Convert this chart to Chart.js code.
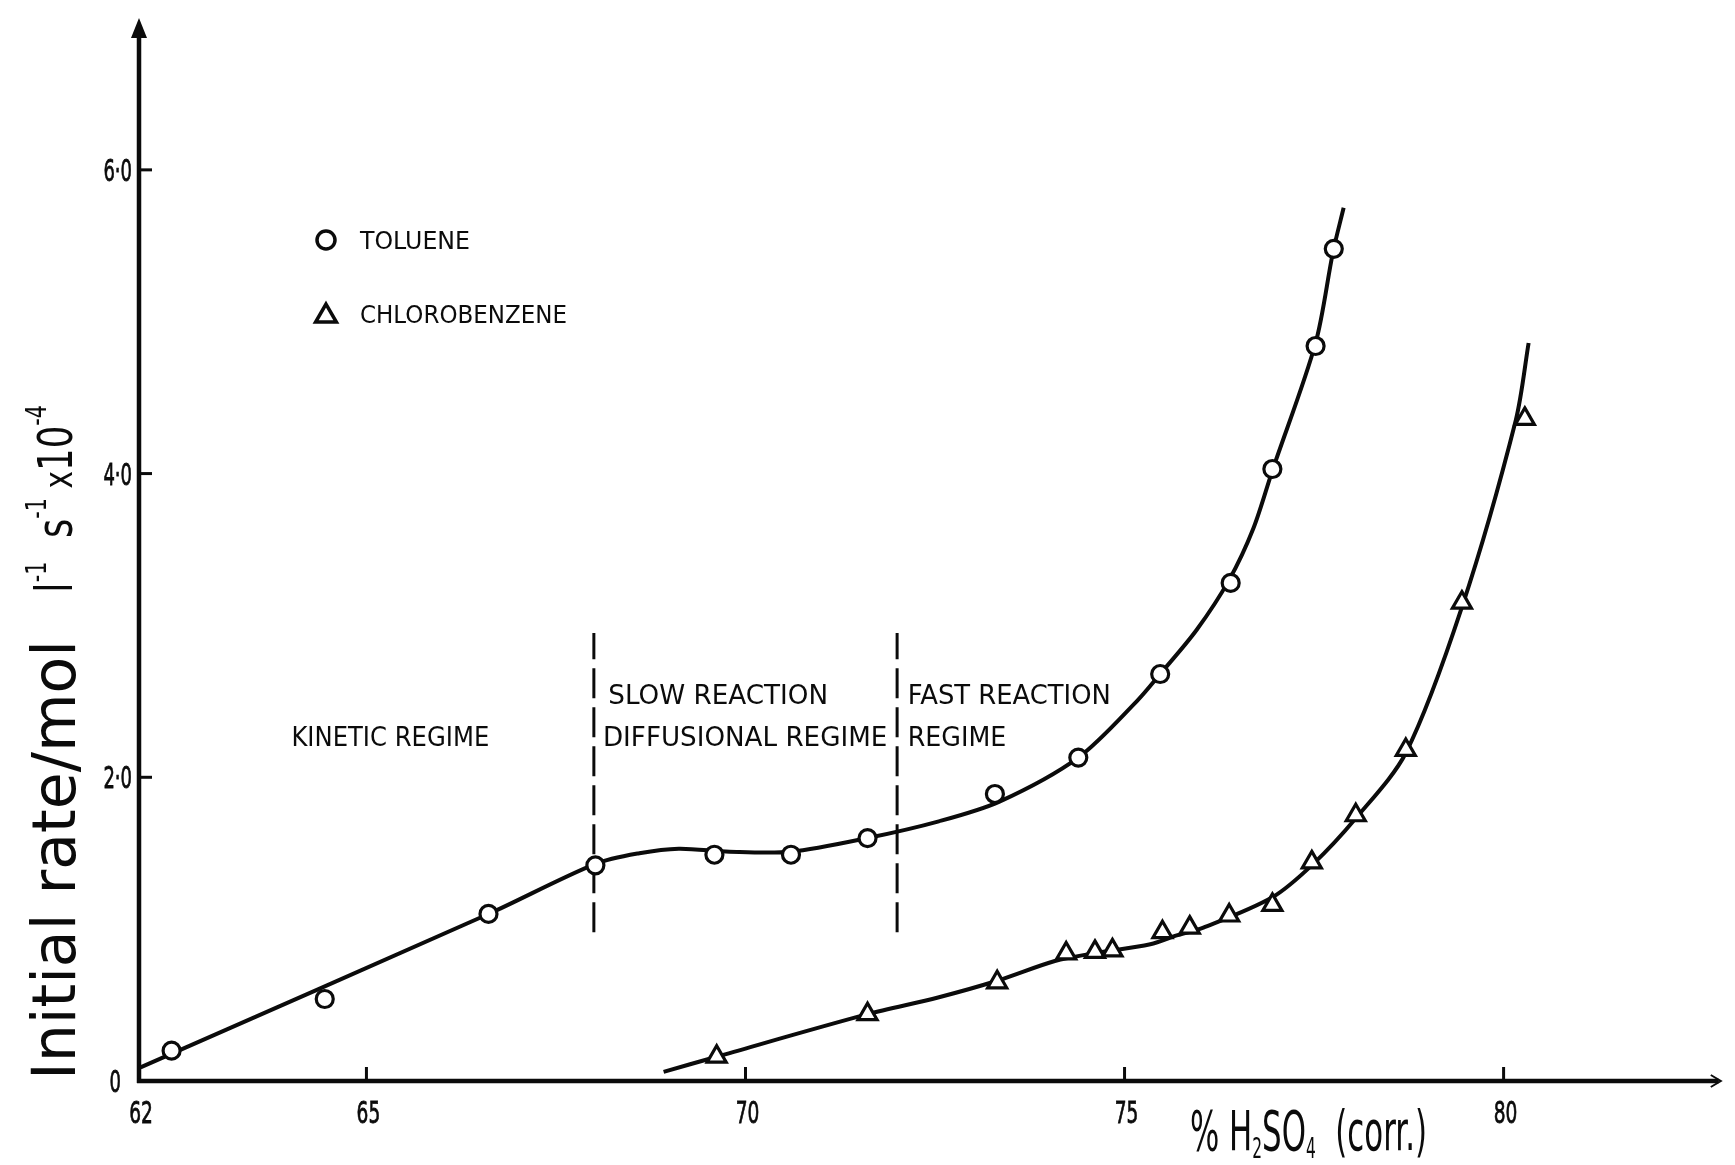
<!DOCTYPE html>
<html>
<head>
<meta charset="utf-8">
<title>Initial rate vs % H2SO4</title>
<script src="https://cdn.jsdelivr.net/npm/chart.js@4.4.1/dist/chart.umd.min.js"></script>
<style>
  html, body { margin: 0; padding: 0; background: #fff; }
  #wrap { width: 1735px; height: 1165px; position: relative; }
  canvas { display: block; }
</style>
</head>
<body>
<div id="wrap"><canvas id="chart" width="1735" height="1165"></canvas></div>
<script>
// ---------------- data ----------------
const xTickValues = [62, 65, 70, 75, 80];
const yTickValues = [0, 2, 4, 6];
const yTickLabels = ['0', '2·0', '4·0', '6·0'];

// Toluene: measured initial rates
const tolueneAcid = [62.43, 64.45, 66.61, 68.02, 69.59, 70.60, 71.61, 73.29, 74.39, 75.47, 76.40, 76.95, 77.52, 77.76];
const tolueneRate = [0.20, 0.54, 1.10, 1.42, 1.49, 1.49, 1.60, 1.89, 2.13, 2.68, 3.28, 4.03, 4.84, 5.48];
// Toluene: drawn trend line
const tolueneFitAcid = [62.02, 66.61, 68.02, 68.60, 69.12, 69.79, 70.60, 71.61, 72.55, 73.35, 74.39, 75.16, 75.47, 75.95, 76.38, 76.70, 76.95, 77.52, 77.75, 77.89];
const tolueneFitRate = [0.09, 1.10, 1.43, 1.50, 1.53, 1.51, 1.51, 1.60, 1.71, 1.84, 2.13, 2.50, 2.68, 2.97, 3.30, 3.64, 4.02, 4.86, 5.46, 5.75];

// Chlorobenzene: measured initial rates
const chloroAcid = [69.62, 71.61, 73.32, 74.23, 74.61, 74.84, 75.50, 75.86, 76.38, 76.95, 77.47, 78.05, 78.71, 79.45, 80.28];
const chloroRate = [0.16, 0.44, 0.65, 0.84, 0.85, 0.86, 0.98, 1.01, 1.09, 1.16, 1.44, 1.75, 2.18, 3.15, 4.36];
// Chlorobenzene: drawn trend line
const chloroFitAcid = [68.92, 69.62, 71.61, 72.54, 73.32, 74.08, 74.58, 75.34, 75.70, 76.04, 76.95, 77.49, 78.05, 78.71, 79.45, 80.16, 80.33];
const chloroFitRate = [0.06, 0.16, 0.44, 0.55, 0.66, 0.79, 0.84, 0.90, 0.96, 1.01, 1.21, 1.43, 1.73, 2.16, 3.12, 4.35, 4.86];

// Regime boundaries (dashed verticals)
const boundaryAcid = [68, 72];
const boundaryRateRange = [0.98, 2.95];

// Regime captions: [text, left acid %, right acid %, rate]
const regimeCaptions = [
  ['KINETIC REGIME', 64.01, 66.62, 2.27],
  ['SLOW REACTION', 68.19, 71.09, 2.55],
  ['DIFFUSIONAL REGIME', 68.12, 71.87, 2.27],
  ['FAST REACTION', 72.14, 74.82, 2.55],
  ['REGIME', 72.14, 73.44, 2.27]
];

const seriesNames = ['TOLUENE', 'CHLOROBENZENE'];

// ---------------- helpers ----------------
const INK = '#0b0b0b';
const FONT = '"DejaVu Sans", "Liberation Sans", sans-serif';

function toPoints(xs, ys) { return xs.map((x, i) => ({ x: x, y: ys[i] })); }

// Draws text squeezed horizontally to a given width (width = null keeps sx);
// an optional outline thickens the strokes a little
function drawFitted(ctx, str, x, y, size, width, align, sx, weight) {
  ctx.save();
  ctx.font = size + 'px ' + FONT;
  const w = ctx.measureText(str).width;
  const k = width ? width / w : (sx || 1);
  ctx.translate(x, y);
  ctx.scale(k, 1);
  ctx.textAlign = align || 'left';
  ctx.textBaseline = 'alphabetic';
  ctx.fillStyle = INK;
  ctx.fillText(str, 0, 0);
  if (weight) {
    ctx.strokeStyle = INK;
    ctx.lineWidth = weight;
    ctx.strokeText(str, 0, 0);
  }
  ctx.restore();
}

// Draws a run of pieces (with sub/superscripts) fitted to a total length
function drawRuns(ctx, runs, x, y, totalWidth) {
  ctx.save();
  let natural = 0;
  runs.forEach(r => { ctx.font = r.size + 'px ' + FONT; r.w = ctx.measureText(r.t).width; natural += r.w; });
  const k = totalWidth / natural;
  ctx.translate(x, y);
  ctx.scale(k, 1);
  ctx.textBaseline = 'alphabetic';
  ctx.textAlign = 'left';
  ctx.fillStyle = INK;
  let cx = 0;
  runs.forEach(r => {
    ctx.font = r.size + 'px ' + FONT;
    ctx.fillText(r.t, cx, r.dy || 0);
    cx += r.w;
  });
  ctx.restore();
}

function triangle(ctx, cx, cy, r) {
  ctx.beginPath();
  for (let i = 0; i < 3; i++) {
    const a = -Math.PI / 2 + i * 2 * Math.PI / 3;
    const px = cx + r * Math.cos(a), py = cy + r * Math.sin(a);
    if (i === 0) ctx.moveTo(px, py); else ctx.lineTo(px, py);
  }
  ctx.closePath();
}

// ---------------- axes, captions, legend ----------------
const frame = {
  id: 'frame',
  beforeDatasetsDraw(chart) {
    const ctx = chart.ctx;
    const xs = chart.scales.x, ys = chart.scales.y;
    const x0 = xs.getPixelForValue(xs.min);
    const y0 = ys.getPixelForValue(0);
    const top = ys.getPixelForValue(ys.max);
    const right = xs.getPixelForValue(xs.max);
    ctx.save();
    ctx.strokeStyle = INK;
    ctx.fillStyle = INK;
    ctx.lineCap = 'butt';
    // vertical axis with filled arrow head
    ctx.lineWidth = 4.5;
    ctx.beginPath();
    ctx.moveTo(x0, y0 + 2);
    ctx.lineTo(x0, top + 16);
    ctx.stroke();
    ctx.beginPath();
    ctx.moveTo(x0, top);
    ctx.lineTo(x0 - 8, top + 20);
    ctx.lineTo(x0 + 8, top + 20);
    ctx.closePath();
    ctx.fill();
    // horizontal axis with open arrow head
    ctx.lineWidth = 4.5;
    ctx.beginPath();
    ctx.moveTo(x0 - 2, y0);
    ctx.lineTo(right - 2, y0);
    ctx.stroke();
    ctx.lineWidth = 2;
    ctx.beginPath();
    ctx.moveTo(right - 10, y0 - 6);
    ctx.lineTo(right, y0);
    ctx.lineTo(right - 10, y0 + 6);
    ctx.stroke();
    // ticks (inward)
    ctx.lineWidth = 3;
    yTickValues.forEach(v => {
      if (v === 0) return;
      const py = ys.getPixelForValue(v);
      ctx.beginPath(); ctx.moveTo(x0, py); ctx.lineTo(x0 + 13, py); ctx.stroke();
    });
    xTickValues.forEach(v => {
      if (v === xs.min) return;
      const px = xs.getPixelForValue(v);
      ctx.beginPath(); ctx.moveTo(px, y0); ctx.lineTo(px, y0 - 14); ctx.stroke();
    });
    ctx.restore();

    // tick labels
    yTickValues.forEach((v, i) => {
      const py = ys.getPixelForValue(v);
      const rx = v === 0 ? x0 - 18 : x0 - 7;
      drawFitted(ctx, yTickLabels[i], rx, py + 11, 31, null, 'right', 0.58, 0.8);
    });
    xTickValues.forEach(v => {
      const px = xs.getPixelForValue(v);
      drawFitted(ctx, String(v), px + 2, y0 + 42, 30, null, 'center', 0.62, 0.8);
    });

    // vertical axis title
    ctx.save();
    ctx.translate(75, 1080);
    ctx.rotate(-Math.PI / 2);
    drawFitted(ctx, 'Initial rate/mol', 0, 0, 60, 440, 'left');
    drawRuns(ctx, [
      { t: 'l', size: 52 },
      { t: '-1', size: 28, dy: -26 },
      { t: '  s', size: 50 },
      { t: '-1', size: 28, dy: -26 },
      { t: ' x', size: 40 },
      { t: '10', size: 48 },
      { t: '-4', size: 28, dy: -26 }
    ], 487, -3, 188);
    ctx.restore();

    // horizontal axis title
    drawRuns(ctx, [
      { t: '% H', size: 56 },
      { t: '2', size: 28, dy: 8 },
      { t: 'SO', size: 56 },
      { t: '4', size: 28, dy: 8 },
      { t: '  (corr.)', size: 56 }
    ], 1190, 1150, 237);

    // regime captions
    regimeCaptions.forEach(c => {
      const l = xs.getPixelForValue(c[1]);
      const r = xs.getPixelForValue(c[2]);
      const py = ys.getPixelForValue(c[3]);
      drawFitted(ctx, c[0], l, py + 10, 26, r - l, 'left');
    });

    // legend
    ctx.save();
    ctx.strokeStyle = INK;
    ctx.fillStyle = '#fff';
    ctx.lineWidth = 3.5;
    ctx.beginPath(); ctx.arc(326, 240, 9, 0, Math.PI * 2); ctx.fill(); ctx.stroke();
    triangle(ctx, 326, 316, 12); ctx.fill(); ctx.stroke();
    ctx.restore();
    drawFitted(ctx, seriesNames[0], 360, 249, 24, 110, 'left');
    drawFitted(ctx, seriesNames[1], 360, 323, 24, 207, 'left');
  }
};

// ---------------- chart ----------------
const lineStyle = {
  showLine: true,
  pointRadius: 0,
  pointHoverRadius: 0,
  borderColor: INK,
  borderWidth: 4,
  fill: false,
  tension: 0.3
};

new Chart(document.getElementById('chart'), {
  type: 'scatter',
  data: {
    datasets: [
      Object.assign({ label: seriesNames[0] + ' fit', data: toPoints(tolueneFitAcid, tolueneFitRate), order: 2 }, lineStyle),
      Object.assign({ label: seriesNames[1] + ' fit', data: toPoints(chloroFitAcid, chloroFitRate), order: 2 }, lineStyle),
      {
        label: 'boundary 1',
        data: [{ x: boundaryAcid[0], y: boundaryRateRange[0] }, { x: boundaryAcid[0], y: boundaryRateRange[1] }],
        showLine: true, pointRadius: 0, borderColor: INK, borderWidth: 3, borderDash: [30, 9], order: 3
      },
      {
        label: 'boundary 2',
        data: [{ x: boundaryAcid[1], y: boundaryRateRange[0] }, { x: boundaryAcid[1], y: boundaryRateRange[1] }],
        showLine: true, pointRadius: 0, borderColor: INK, borderWidth: 3, borderDash: [30, 9], order: 3
      },
      {
        label: seriesNames[0],
        data: toPoints(tolueneAcid, tolueneRate),
        showLine: false,
        pointStyle: 'circle',
        pointRadius: 8.5,
        pointBorderWidth: 3.2,
        pointBackgroundColor: '#fff',
        pointBorderColor: INK,
        order: 0
      },
      {
        label: seriesNames[1],
        data: toPoints(chloroAcid, chloroRate),
        showLine: false,
        pointStyle: 'triangle',
        pointRadius: 11,
        pointBorderWidth: 3.2,
        pointBackgroundColor: '#fff',
        pointBorderColor: INK,
        order: 0
      }
    ]
  },
  options: {
    responsive: false,
    animation: false,
    devicePixelRatio: 1,
    layout: { padding: { left: 139, right: 9, top: 18, bottom: 84 } },
    scales: {
      x: { type: 'linear', min: 62, max: 82.865, display: false },
      y: { type: 'linear', min: 0, max: 7.0, display: false }
    },
    plugins: {
      legend: { display: false },
      tooltip: { enabled: false }
    },
    events: []
  },
  plugins: [frame]
});
</script>
</body>
</html>
